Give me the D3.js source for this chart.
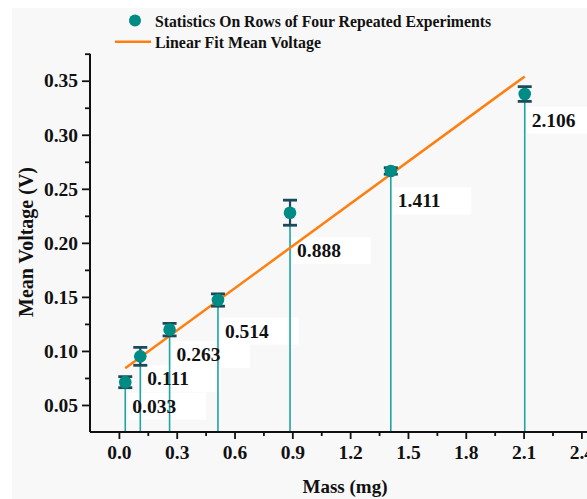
<!DOCTYPE html>
<html>
<head>
<meta charset="utf-8">
<script src="https://cdn.jsdelivr.net/npm/d3@7"></script>
<style>
html,body{margin:0;padding:0;background:#fff;}
svg{display:block;}
text{font-family:"Liberation Serif","Times New Roman",serif;font-weight:bold;fill:#111;}
</style>
</head>
<body>
<svg id="chart" width="587" height="499"></svg>
<script>
// ---- data ----
const mass = [0.033, 0.111, 0.263, 0.514, 0.888, 1.411, 2.106];
const meanVoltage = [0.0711, 0.0950, 0.1197, 0.1471, 0.2279, 0.2665, 0.3377];
const errVoltage = [0.0051, 0.0083, 0.0058, 0.0057, 0.0116, 0.0030, 0.0068];
const labelText = ["0.033", "0.111", "0.263", "0.514", "0.888", "1.411", "2.106"];
const labelVoltage = [0.0429, 0.0683, 0.0905, 0.1124, 0.1867, 0.2328, 0.3076];
const fitMass = [0.033, 2.106];
const fitVoltage = [0.0840, 0.3540];
const xTicks = [0.0, 0.3, 0.6, 0.9, 1.2, 1.5, 1.8, 2.1, 2.4];
const xMinorTicks = [0.15, 0.45, 0.75, 1.05, 1.35, 1.65, 1.95, 2.25, 2.55];
const yTicks = [0.05, 0.10, 0.15, 0.20, 0.25, 0.30, 0.35];
const yMinorTicks = [0.075, 0.125, 0.175, 0.225, 0.275, 0.325, 0.375];
const legendLabels = ["Statistics On Rows of Four Repeated Experiments", "Linear Fit Mean Voltage"];

// ---- setup ----
const svg = d3.select("#chart");
svg.append("rect").attr("x", 12).attr("y", 8).attr("width", 575).attr("height", 491).attr("fill", "#f8f8f8");

const x = d3.scaleLinear().domain([-0.15, 2.55]).range([90, 90 + 2.7 * 192.7]);
const y = d3.scaleLinear().domain([0.025, 0.375]).range([432, 53.7]);

const teal = "#008b84";
const stemCol = "#1fa3a3";
const errCol = "#1b4a5a";
const orange = "#ff7f0e";

// label boxes
const lab = svg.append("g");
lab.selectAll("rect").data(mass).join("rect")
  .attr("x", d => x(d) + 2.5)
  .attr("y", (d, i) => y(labelVoltage[i]) - 20)
  .attr("width", 78).attr("height", 27)
  .attr("fill", "#ffffff");

// stems
svg.append("g").selectAll("line").data(mass).join("line")
  .attr("x1", d => x(d)).attr("x2", d => x(d))
  .attr("y1", y(0.025)).attr("y2", (d, i) => y(meanVoltage[i]))
  .attr("stroke", stemCol).attr("stroke-width", 1.6);

// label text
svg.append("g").selectAll("text").data(mass).join("text")
  .attr("x", d => x(d) + 7)
  .attr("y", (d, i) => y(labelVoltage[i]))
  .attr("font-size", 19.5)
  .text((d, i) => labelText[i]);

// fit line
const fitData = fitMass.map((m, i) => [m, fitVoltage[i]]);
svg.append("path").datum(fitData)
  .attr("d", d3.line().x(d => x(d[0])).y(d => y(d[1])))
  .attr("fill", "none").attr("stroke", orange).attr("stroke-width", 2.5);

// error bars
const eb = svg.append("g").attr("stroke", errCol).attr("stroke-width", 2.2);
mass.forEach((m, i) => {
  const lo = y(meanVoltage[i] - errVoltage[i]);
  const hi = y(meanVoltage[i] + errVoltage[i]);
  eb.append("line").attr("x1", x(m)).attr("x2", x(m)).attr("y1", lo).attr("y2", hi);
  eb.append("line").attr("x1", x(m) - 7).attr("x2", x(m) + 7).attr("y1", lo).attr("y2", lo).attr("stroke-width", 2.8);
  eb.append("line").attr("x1", x(m) - 7).attr("x2", x(m) + 7).attr("y1", hi).attr("y2", hi).attr("stroke-width", 2.8);
});

// markers
svg.append("g").selectAll("circle").data(mass).join("circle")
  .attr("cx", d => x(d)).attr("cy", (d, i) => y(meanVoltage[i]))
  .attr("r", 6.3).attr("fill", teal);

// axes
const gx = svg.append("g").attr("transform", `translate(0,${y(0.025)})`);
gx.call(d3.axisBottom(x).tickValues(xTicks).tickFormat(d3.format(".1f")).tickSize(7).tickPadding(6));
const gxm = svg.append("g").attr("transform", `translate(0,${y(0.025)})`);
gxm.call(d3.axisBottom(x).tickValues(xMinorTicks).tickFormat("").tickSize(4));
gxm.select(".domain").remove();

const gy = svg.append("g").attr("transform", `translate(${x(-0.15)},0)`);
gy.call(d3.axisLeft(y).tickValues(yTicks).tickFormat(d3.format(".2f")).tickSize(8).tickPadding(4));
const gym = svg.append("g").attr("transform", `translate(${x(-0.15)},0)`);
gym.call(d3.axisLeft(y).tickValues(yMinorTicks).tickFormat("").tickSize(5));
gym.select(".domain").remove();

[gx, gxm, gy, gym].forEach(g => {
  g.selectAll(".domain").attr("stroke", "#111").attr("stroke-width", 2);
  g.selectAll(".tick line").attr("stroke", "#111").attr("stroke-width", 1.8);
  g.selectAll(".tick text").attr("font-size", 19.5).attr("fill", "#111")
    .attr("font-family", "Liberation Serif, Times New Roman, serif").attr("font-weight", "bold");
});
gx.select(".domain").attr("d", `M${x(-0.15)},0H587`);
gy.select(".domain").attr("d", `M0,${y(0.375)}V${y(0.025)}`);

// axis titles
svg.append("text").attr("x", 345).attr("y", 493).attr("text-anchor", "middle")
  .attr("font-size", 19).text("Mass (mg)");
svg.append("text").attr("transform", "translate(33,242) rotate(-90)").attr("text-anchor", "middle")
  .attr("font-size", 20).text("Mean Voltage (V)");

// legend
const lg = svg.append("g");
lg.append("circle").attr("cx", 135).attr("cy", 20.5).attr("r", 6).attr("fill", teal);
lg.append("text").attr("x", 155).attr("y", 26.5).attr("font-size", 17)
  .attr("textLength", 336).attr("lengthAdjust", "spacingAndGlyphs").text(legendLabels[0]);
lg.append("line").attr("x1", 115).attr("x2", 151).attr("y1", 41.7).attr("y2", 41.7)
  .attr("stroke", orange).attr("stroke-width", 2.5);
lg.append("text").attr("x", 155).attr("y", 48).attr("font-size", 17)
  .attr("textLength", 166).attr("lengthAdjust", "spacingAndGlyphs").text(legendLabels[1]);
</script>
</body>
</html>
